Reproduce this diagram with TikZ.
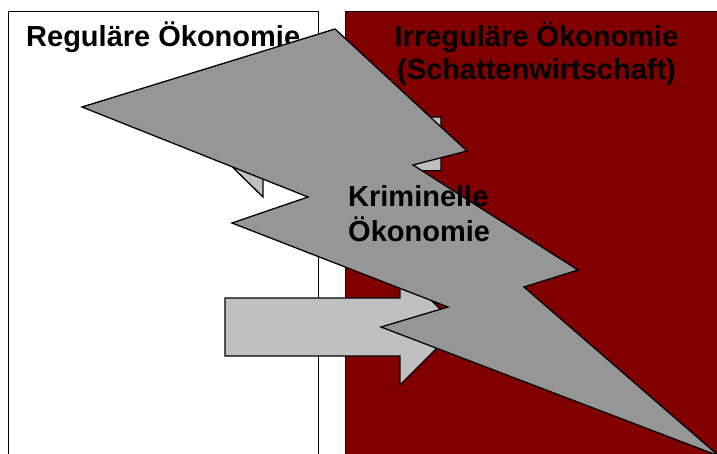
\documentclass[tikz,border=0pt]{standalone}
\usepackage{fontspec}
\setmainfont{Liberation Sans}
\definecolor{panelred}{RGB}{128,0,0}
\definecolor{boltgray}{RGB}{150,150,150}
\definecolor{arrowgray}{RGB}{192,192,192}
\tikzset{
  panel/.style={draw=black, line width=1.3pt, anchor=north west, inner sep=0pt},
  shapeline/.style={draw=black, line width=1.3pt, line join=miter},
  label/.style={inner sep=0pt, font=\fontsize{29}{33}\selectfont\bfseries}
}
\begin{document}
\begin{tikzpicture}[x=1pt,y=-1pt]
\useasboundingbox (0,0) rectangle (717,454);
\fill[white] (0,0) rectangle (717,454);
% panels
\node[panel, fill=white, minimum width=310pt, minimum height=470pt] (reg) at (8,11) {};
\node[panel, fill=panelred, minimum width=400pt, minimum height=470pt] (irr) at (345,11) {};
% titles
\node[label, anchor=base west] (regtext) at (26,47) {Reguläre Ökonomie};
\node[label, anchor=base] (irrtext) at (536.5,47)
  {\begin{tabular}[t]{@{}c@{}}Irreguläre Ökonomie\\(Schattenwirtschaft)\end{tabular}};
% arrows
\draw[shapeline, fill=arrowgray] (441,117) -- (263,117) -- (263,91) -- (209,144)
  -- (263,197) -- (263,170.7) -- (441,170.7) -- cycle;
\draw[shapeline, fill=arrowgray] (225,298) -- (400,298) -- (400,269) -- (458,327)
  -- (400,385) -- (400,356) -- (225,356) -- cycle;
% lightning bolt
\draw[shapeline, fill=boltgray] (335,29) -- (467,151) -- (413,165) -- (578,270)
  -- (524,287) -- (719,456) -- (381,327) -- (448,307) -- (232,223)
  -- (308,197) -- (82,107) -- cycle;
% crime label
\node[label, anchor=base west] (krimtext) at (348,207)
  {\begin{tabular}[t]{@{}l@{}}Kriminelle\\Ökonomie\end{tabular}};
\end{tikzpicture}
\end{document}
